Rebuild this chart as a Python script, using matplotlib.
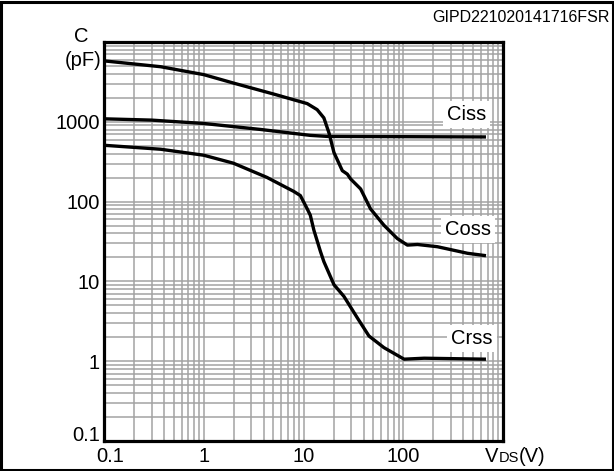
import numpy as np
import matplotlib
matplotlib.use("Agg")
import matplotlib.pyplot as plt
from matplotlib.patches import Rectangle
from matplotlib.transforms import ScaledTranslation

plt.rcParams['font.family'] = ['Liberation Sans', 'DejaVu Sans']

# ---- data ----
vds_top = [0.1, 0.37, 1, 2, 5, 10.9, 13.7, 16, 18, 20.2, 24.5, 27.5, 29.7,
           37.4, 47, 64, 87, 110, 139, 220, 441, 675]
c_top = [5800, 4900, 3900, 3050, 2230, 1690, 1420, 1120, 727, 412, 244, 221, 192,
         144, 81, 50.6, 34.5, 28.5, 29, 27.2, 22.5, 21]

vds_mid = [0.1, 0.3, 1, 3.7, 11.7, 17.3, 675]
c_mid = [1090, 1050, 953, 802, 676, 656, 646]

vds_low = [0.1, 0.37, 1, 1.98, 4.3, 8, 9.3, 10.9, 11.7, 12.7, 14.8, 16, 20.2,
           25.4, 34.6, 45.3, 64, 102, 162, 675]
c_low = [508, 453, 381, 303, 201, 134, 119, 81, 67.5, 44, 23.6, 17.7, 9.1,
         6.5, 3.5, 2.07, 1.48, 1.06, 1.09, 1.06]

curve_names = ["Ciss", "Coss", "Crss"]
label_pos = [(430, 1060), (450, 38.4), (488, 1.65)]

xticks = [0.1, 1, 10, 100]
xticklabels = ["0.1", "1", "10", "100"]
yticks = [0.1, 1, 10, 100, 1000]
yticklabels = ["0.1", "1", "10", "100", "1000"]
code = "GIPD221020141716FSR"
#--------------------------------------
fig = plt.figure(figsize=(6.14, 4.71), dpi=100)
ax = fig.add_axes([104/614, 30/471, 399/614, 399/471])

ax.set_xscale('log')
ax.set_yscale('log')
ax.set_xlim(0.1, 1000)
ax.set_ylim(0.1, 10000)

ax.grid(True, which='both', color='#a3a3a3', lw=1.1)
ax.set_axisbelow(True)

lw = 2.4
ax.plot(vds_top, c_top, color='black', lw=lw, solid_capstyle='butt')
ax.plot(vds_mid, c_mid, color='black', lw=lw, solid_capstyle='butt')
ax.plot(vds_low, c_low, color='black', lw=lw, solid_capstyle='butt')

for name, (x, y) in zip(curve_names, label_pos):
    ax.text(x, y, name, fontsize=14.5, ha='center', va='baseline',
            bbox=dict(boxstyle='square,pad=0.2', fc='white', ec='none'))

for s in ax.spines.values():
    s.set_linewidth(2.3)

ax.set_xticks(xticks)
ax.set_xticklabels(xticklabels)
ax.set_yticks(yticks)
ax.set_yticklabels(yticklabels)
ax.minorticks_on()
ax.tick_params(which='both', length=0, labelsize=14.5)
ax.tick_params(axis='x', pad=4)
ax.tick_params(axis='y', pad=3)

# shift the corner labels like the original
xl0 = ax.get_xticklabels()[0]
xl0.set_transform(xl0.get_transform() + ScaledTranslation(6/100, 0, fig.dpi_scale_trans))
yl0 = ax.get_yticklabels()[0]
yl0.set_va('baseline')

# axis titles
yb = 1 - 462/471
t1 = fig.text(485/614, yb, "V", fontsize=14.5, ha='left', va='baseline')
t2 = ax.annotate("DS", xy=(1, yb), xycoords=(t1, fig.transFigure),
                 fontsize=10.5, ha='left', va='baseline')
ax.annotate("(V)", xy=(1, yb), xycoords=(t2, fig.transFigure),
            fontsize=14.5, ha='left', va='baseline')
fig.text(81/614, 1 - 36.5/471, "C", fontsize=14.5, ha='center', va='center')
fig.text(102/614, 1 - 60/471, "(pF)", fontsize=14.5, ha='right', va='center')

fig.text(610/614, 1 - 18/471, code, fontsize=11.5, ha='right', va='center')

fig.patches.append(Rectangle((1.5/614, 1.5/471), 611/614, 468/471,
                             transform=fig.transFigure, fill=False,
                             ec='black', lw=2.2))

fig.savefig("out.png", dpi=100)
